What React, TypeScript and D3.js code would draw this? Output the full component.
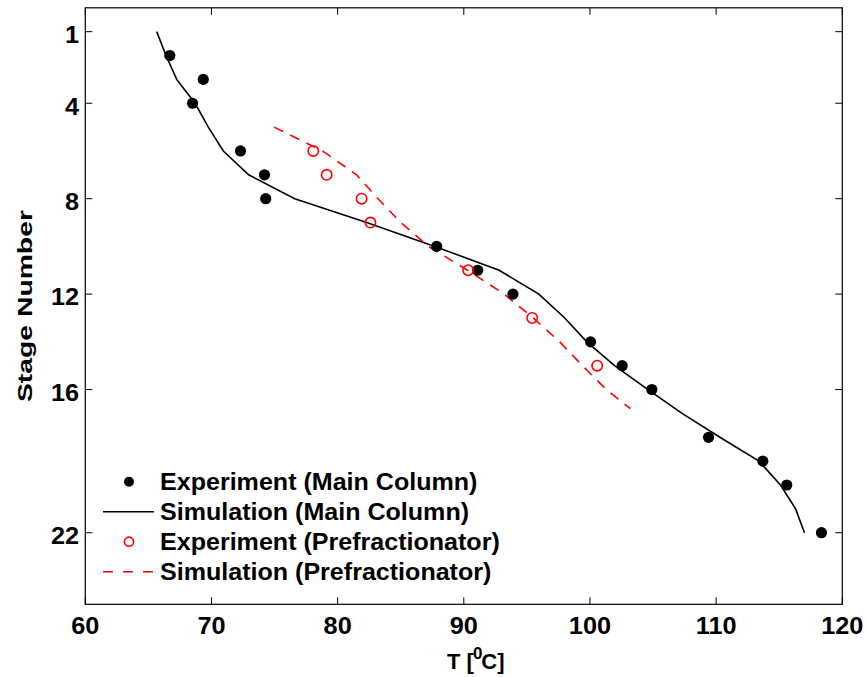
import React from "react";
import * as d3 from "d3";

const mainExpStage = [2, 3, 4, 6, 7, 8, 10, 11, 12, 14, 15, 16, 18, 19, 20, 22];
const mainExpT = [66.7, 69.35, 68.5, 72.3, 74.2, 74.3, 87.85, 91.1, 93.9, 100.05, 102.55, 104.9, 109.4, 113.7, 115.6, 118.35];

const mainSimStage = [1, 2, 3, 4, 5, 6, 7, 8, 9, 10, 11, 12, 13, 14, 15, 16, 17, 18, 19, 20, 21, 22];
const mainSimT = [65.66, 66.4, 67.24, 68.7, 69.75, 70.94, 72.95, 76.6, 82.3, 87.7, 92.8, 95.95, 98.0, 99.75, 101.95, 104.6, 107.3, 110.3, 113.4, 115.1, 116.3, 117.0];

const preExpStage = [6, 7, 8, 9, 11, 13, 15];
const preExpT = [78.07, 79.13, 81.9, 82.6, 90.35, 95.42, 100.57];

const preSimStage = [5, 6, 7, 8, 9, 10, 11, 12, 13, 14, 15, 16, 16.8];
const preSimT = [74.96, 78.8, 81.5, 83.2, 85.0, 87.2, 90.3, 93.2, 95.5, 97.6, 99.4, 101.3, 103.2];

const xTicks = [60, 70, 80, 90, 100, 110, 120];
const yTicks = [1, 4, 8, 12, 16, 22];

const legendLabels = [
  "Experiment (Main Column)",
  "Simulation (Main Column)",
  "Experiment (Prefractionator)",
  "Simulation (Prefractionator)",
];

const FONT = "'Liberation Sans', Arial, Helvetica, sans-serif";

export default function App() {
  const W = 867;
  const H = 677;
  const x = d3.scaleLinear().domain([60, 120]).range([85.3, 842.3]);
  const y = d3.scaleLinear().domain([0, 25]).range([7.8, 604.3]);
  const [x0, x1] = x.range();
  const [y0, y1] = y.range();
  const tickLen = 7;

  const line = d3
    .line<[number, number]>()
    .x((d) => x(d[0]))
    .y((d) => y(d[1]));

  const mainSim = mainSimT.map((t, i) => [t, mainSimStage[i]] as [number, number]);
  const preSim = preSimT.map((t, i) => [t, preSimStage[i]] as [number, number]);

  const textStyle = { fontFamily: FONT, fontWeight: 700 as const };
  const sx = 1.1;

  return (
    <svg width={W} height={H} style={{ position: "absolute", left: 0, top: 0, background: "#fff" }}>
      <rect x={0} y={0} width={W} height={H} fill="#fff" />
      <rect x={x0} y={y0} width={x1 - x0} height={y1 - y0} fill="none" stroke="#000" strokeWidth={1.2} />
      {xTicks.map((t) => (
        <g key={"xt" + t}>
          <line x1={x(t)} x2={x(t)} y1={y1} y2={y1 - tickLen} stroke="#000" strokeWidth={1} />
          <line x1={x(t)} x2={x(t)} y1={y0} y2={y0 + tickLen} stroke="#000" strokeWidth={1} />
          <text
            transform={`translate(${x(t)},633.5) scale(${sx},1)`}
            textAnchor="middle"
            fontSize={23}
            style={textStyle}
          >
            {t}
          </text>
        </g>
      ))}
      {yTicks.map((t) => (
        <g key={"yt" + t}>
          <line x1={x0} x2={x0 + tickLen} y1={y(t)} y2={y(t)} stroke="#000" strokeWidth={1} />
          <line x1={x1} x2={x1 - tickLen} y1={y(t)} y2={y(t)} stroke="#000" strokeWidth={1} />
          <text
            transform={`translate(79,${y(t) + 11.3}) scale(${sx},1)`}
            textAnchor="end"
            fontSize={23}
            style={textStyle}
          >
            {t}
          </text>
        </g>
      ))}
      <text
        transform={`translate(32,${(y0 + y1) / 2}) rotate(-90)`}
        textAnchor="middle"
        fontSize={21}
        textLength={192}
        lengthAdjust="spacingAndGlyphs"
        style={textStyle}
      >
        Stage Number
      </text>
      <text x={447} y={669} fontSize={22} style={textStyle}>
        T [<tspan dx={-1} dy={-10} fontSize={17}>0</tspan>
        <tspan dx={-1} dy={10}>C]</tspan>
      </text>

      <path d={line(mainSim) || ""} fill="none" stroke="#000" strokeWidth={1.6} />
      <path d={line(preSim) || ""} fill="none" stroke="#ff0000" strokeWidth={1.6} strokeDasharray="10,8" />

      {mainExpT.map((t, i) => (
        <circle key={"me" + i} cx={x(t)} cy={y(mainExpStage[i])} r={5.6} fill="#000" />
      ))}
      {preExpT.map((t, i) => (
        <circle key={"pe" + i} cx={x(t)} cy={y(preExpStage[i])} r={5.2} fill="none" stroke="#ff0000" strokeWidth={1.6} />
      ))}

      {legendLabels.map((lab, i) => {
        const cy = 481.7 + i * 30;
        return (
          <g key={"lg" + i}>
            {i === 0 && <circle cx={129} cy={cy} r={5} fill="#000" />}
            {i === 1 && <line x1={103} x2={154} y1={cy} y2={cy} stroke="#000" strokeWidth={1.6} />}
            {i === 2 && <circle cx={129} cy={cy} r={4.6} fill="none" stroke="#ff0000" strokeWidth={1.6} />}
            {i === 3 && (
              <line x1={103} x2={154} y1={cy} y2={cy} stroke="#ff0000" strokeWidth={1.6} strokeDasharray="10,10" />
            )}
            <text
              transform={`translate(160,${cy + 8.3}) scale(1.09,1)`}
              fontSize={23}
              style={textStyle}
            >
              {lab}
            </text>
          </g>
        );
      })}
    </svg>
  );
}
